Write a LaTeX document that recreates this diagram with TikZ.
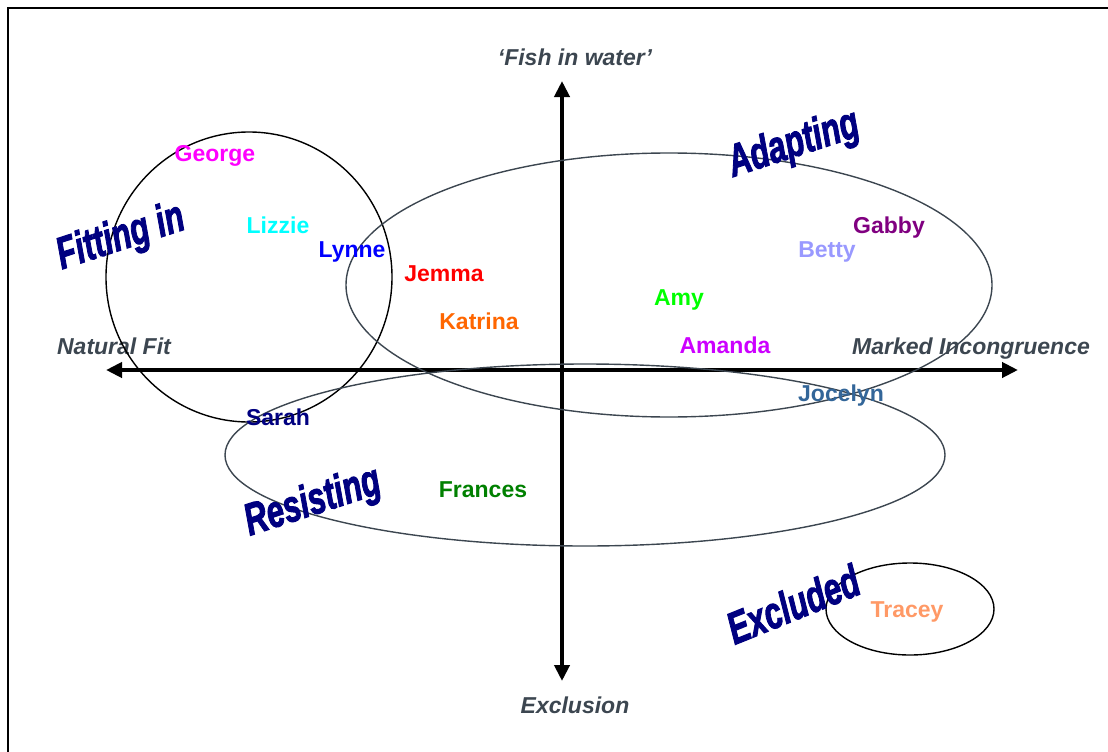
\documentclass[tikz,border=0pt]{standalone}
\usepackage{fontspec}
\setmainfont{Liberation Sans}
\newfontfamily\artfont{Liberation Sans}[BoldItalicFeatures={FakeBold=2.5}]
\definecolor{AxisGrey}{HTML}{3C4650}
\definecolor{ArtNavy}{HTML}{000080}
\definecolor{PupMagenta}{HTML}{FF00FF}
\definecolor{PupCyan}{HTML}{00FFFF}
\definecolor{PupBlue}{HTML}{0000FF}
\definecolor{PupRed}{HTML}{FF0000}
\definecolor{PupOrange}{HTML}{FF6600}
\definecolor{PupGreen}{HTML}{00FF00}
\definecolor{PupViolet}{HTML}{CC00FF}
\definecolor{PupPurple}{HTML}{800080}
\definecolor{PupLilac}{HTML}{9999FF}
\definecolor{PupSteel}{HTML}{336699}
\definecolor{PupNavy}{HTML}{000080}
\definecolor{PupDarkGreen}{HTML}{008000}
\definecolor{PupPeach}{HTML}{FF9966}
\usetikzlibrary{arrows.meta}

\begin{document}
\begin{tikzpicture}[
    x=1pt, y=-1pt,
    pupil/.style={
      font=\fontsize{23}{26}\selectfont\bfseries,
      inner sep=0pt,
      text height=17pt,
      text depth=0pt
    },
    axislabel/.style={
      font=\fontsize{23}{26}\selectfont\bfseries\itshape,
      text=AxisGrey,
      inner sep=0pt,
      text height=17pt,
      text depth=0pt
    },
    wordart/.style={
      font=\artfont\fontsize{40}{40}\selectfont\bfseries\itshape,
      text=ArtNavy,
      inner sep=0pt
    },
    axis/.style={line width=4.5pt, {Triangle[length=16pt,width=15pt]}-{Triangle[length=16pt,width=15pt]}},
    group/.style={line width=1.4pt, draw=AxisGrey}
  ]
    \useasboundingbox (0,0) rectangle (1108,752);
    % frame
    \draw[line width=2.5pt] (8,752) -- (8,8) -- (1108,8);

    % axes
    \coordinate (west) at (106,370);
    \coordinate (east) at (1018,370);
    \coordinate (north) at (562,81);
    \coordinate (south) at (562,681);
    \draw[axis] (west) -- (east);
    \draw[axis] (south) -- (north);

    \node[axislabel] (fit) at (114,346) {Natural Fit};
    \node[axislabel] (incong) at (971,346) {Marked Incongruence};
    \node[axislabel] (fish) at (575,57) {‘Fish in water’};
    \node[axislabel] (excl) at (575,705) {Exclusion};

    % groupings
    \draw[line width=1.4pt] (249,277) ellipse [x radius=143pt, y radius=145pt];
    \draw[group] (669,285) ellipse [x radius=323pt, y radius=132pt];
    \draw[group] (585,455) ellipse [x radius=360pt, y radius=91pt];
    \draw[line width=1.4pt] (910,609) ellipse [x radius=84pt, y radius=46pt];

    \node[wordart, rotate=18, xscale=0.78, yscale=1.12] (fitting) at (121,238) {Fitting in};
    \node[wordart, rotate=18, xscale=0.78, yscale=1.12] (adapting) at (794,145) {Adapting};
    \node[wordart, rotate=18, xscale=0.78, yscale=1.12] (resisting) at (313,503) {Resisting};
    \node[wordart, rotate=22, xscale=0.78, yscale=1.12] (excluded) at (793,604) {Excluded};

    % pupils
    \node[pupil, text=PupMagenta] (george) at (215,153) {George};
    \node[pupil, text=PupCyan] (lizzie) at (278,225) {Lizzie};
    \node[pupil, text=PupBlue] (lynne) at (352,249) {Lynne};
    \node[pupil, text=PupRed] (jemma) at (444,273) {Jemma};
    \node[pupil, text=PupOrange] (katrina) at (479,321) {Katrina};
    \node[pupil, text=PupGreen] (amy) at (679,297) {Amy};
    \node[pupil, text=PupViolet] (amanda) at (725,345) {Amanda};
    \node[pupil, text=PupPurple] (gabby) at (889,225) {Gabby};
    \node[pupil, text=PupLilac] (betty) at (827,249) {Betty};
    \node[pupil, text=PupSteel] (jocelyn) at (841,393) {Jocelyn};
    \node[pupil, text=PupNavy] (sarah) at (278,417) {Sarah};
    \node[pupil, text=PupDarkGreen] (frances) at (483,489) {Frances};
    \node[pupil, text=PupPeach] (tracey) at (907,609) {Tracey};
  \end{tikzpicture}
\end{document}
